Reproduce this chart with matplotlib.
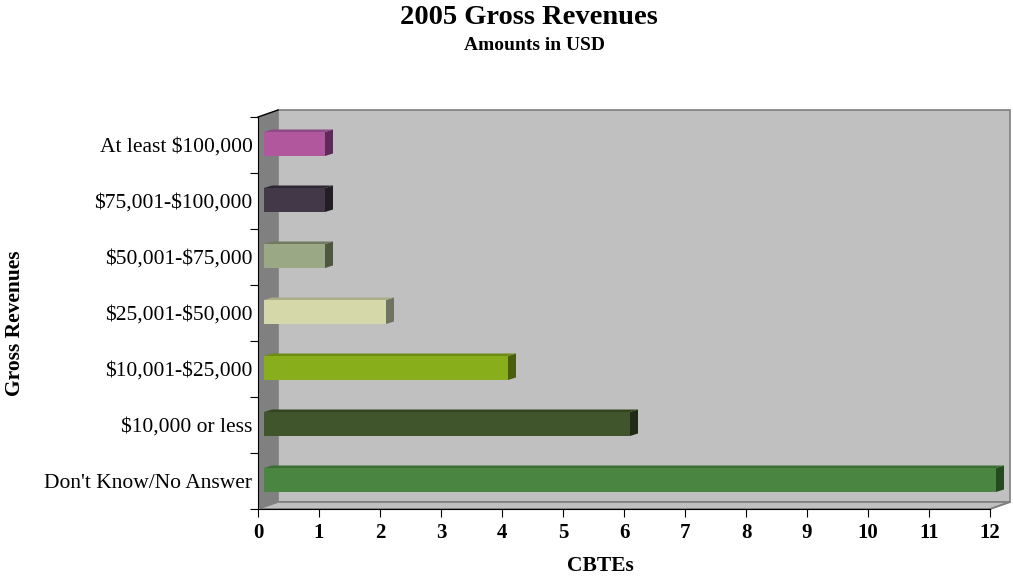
import numpy as np
import matplotlib.pyplot as plt
from matplotlib.patches import Polygon, Rectangle

categories = ["Don't Know/No Answer", "$10,000 or less", "$10,001-$25,000",
              "$25,001-$50,000", "$50,001-$75,000", "$75,001-$100,000",
              "At least $100,000"]
values = [12, 6, 4, 2, 1, 1, 1]
front_colors = ["#4A8641", "#40552C", "#89AE1C", "#D5D9AA", "#9AA886", "#433848", "#B0579E"]
side_colors = ["#254A20", "#1F2B15", "#4A5E10", "#6F7460", "#4E5640", "#231E26", "#5F2A5A"]
top_colors = ["#3A6E33", "#33451F", "#6E8C14", "#AAAE88", "#6F7A5E", "#2E2733", "#8E4A84"]

plt.rcParams['font.family'] = ['Liberation Serif', 'DejaVu Serif']
plt.rcParams['text.parse_math'] = False

W, H = 1013, 586
fig = plt.figure(figsize=(W / 100, H / 100), dpi=100)
# axes placed in pixel coordinates: x 258..990, y 117..509
x0, x1, yt, yb = 258, 990, 117, 509
ax = fig.add_axes([x0 / W, 1 - yb / H, (x1 - x0) / W, (yb - yt) / H])
ax.set_xlim(0, 12)
ax.set_ylim(-0.5, 6.5)

px = 12 / (x1 - x0)   # data units per pixel (x)
py = 7 / (yb - yt)    # data units per pixel (y)

# walls
wdx, wdy = 20 * px, 7 * py
ax.add_patch(Rectangle((wdx, -0.5 + wdy), 12, 7, facecolor="#C0C0C0",
                       edgecolor="#808080", lw=1.2, zorder=0, clip_on=False))
ax.add_patch(Polygon([(0, -0.5), (0, 6.5), (wdx, 6.5 + wdy), (wdx, -0.5 + wdy)],
                     closed=True, facecolor="#808080", edgecolor="none", zorder=1, clip_on=False))
ax.add_patch(Polygon([(0, -0.5), (12, -0.5), (12 + wdx, -0.5 + wdy), (wdx, -0.5 + wdy)],
                     closed=True, facecolor="#C0C0C0", edgecolor="#808080", lw=1.2,
                     zorder=1, clip_on=False))
ax.plot([0, wdx], [6.5, 6.5 + wdy], color="black", lw=1, zorder=2, clip_on=False)
ax.plot([12, 12 + wdx], [-0.5, -0.5 + wdy], color="#808080", lw=1.2, zorder=2, clip_on=False)

# bars with a little depth
bdx, bdy = 8 * px, 2.5 * py
start = 6 * px
h = 24 * py
for i, v in enumerate(values):
    yc = i + 1 * py
    ylo, yhi = yc - h / 2, yc + h / 2
    ax.add_patch(Rectangle((start, ylo), v, h, facecolor=front_colors[i],
                           edgecolor="none", zorder=3, clip_on=False))
    ax.add_patch(Polygon([(start + v, ylo), (start + v, yhi), (start + v + bdx, yhi + bdy),
                          (start + v + bdx, ylo + bdy)], closed=True,
                         facecolor=side_colors[i], edgecolor="none", zorder=3, clip_on=False))
    ax.add_patch(Polygon([(start, yhi), (start + v, yhi), (start + v + bdx, yhi + bdy),
                          (start + bdx, yhi + bdy)], closed=True,
                         facecolor=top_colors[i], edgecolor="none", zorder=3, clip_on=False))

ax.set_facecolor("none")
for s in ["top", "right"]:
    ax.spines[s].set_visible(False)
ax.spines["left"].set_zorder(4)
ax.spines["bottom"].set_zorder(4)

ax.set_xticks(range(13))
ax.set_xticklabels([str(k) for k in range(13)], fontsize=15, fontweight="bold")
ax.set_yticks(np.arange(-0.5, 7, 1))
ax.set_yticklabels([])
ax.set_yticks(range(7), minor=True)
ax.set_yticklabels(categories, minor=True, fontsize=15.5)
ax.tick_params(axis="y", which="minor", length=0, pad=4)
ax.tick_params(axis="y", which="major", length=6, direction="out")
ax.tick_params(axis="x", length=6, direction="out", pad=4)

fig.text(600 / W, 1 - 566 / H, "CBTEs", fontsize=15.5, fontweight="bold",
         ha="center", va="center")
fig.text(15 / W, 1 - 323 / H, "Gross Revenues", rotation=90, fontsize=15.5,
         fontweight="bold", ha="center", va="center")

fig.text(529 / W, 1 - 18 / H, "2005 Gross Revenues", fontsize=20.5, fontweight="bold",
         ha="center", va="center")
fig.text(535 / W, 1 - 45 / H, "Amounts in USD", fontsize=14, fontweight="bold",
         ha="center", va="center")

fig.savefig("out.png", dpi=100)
